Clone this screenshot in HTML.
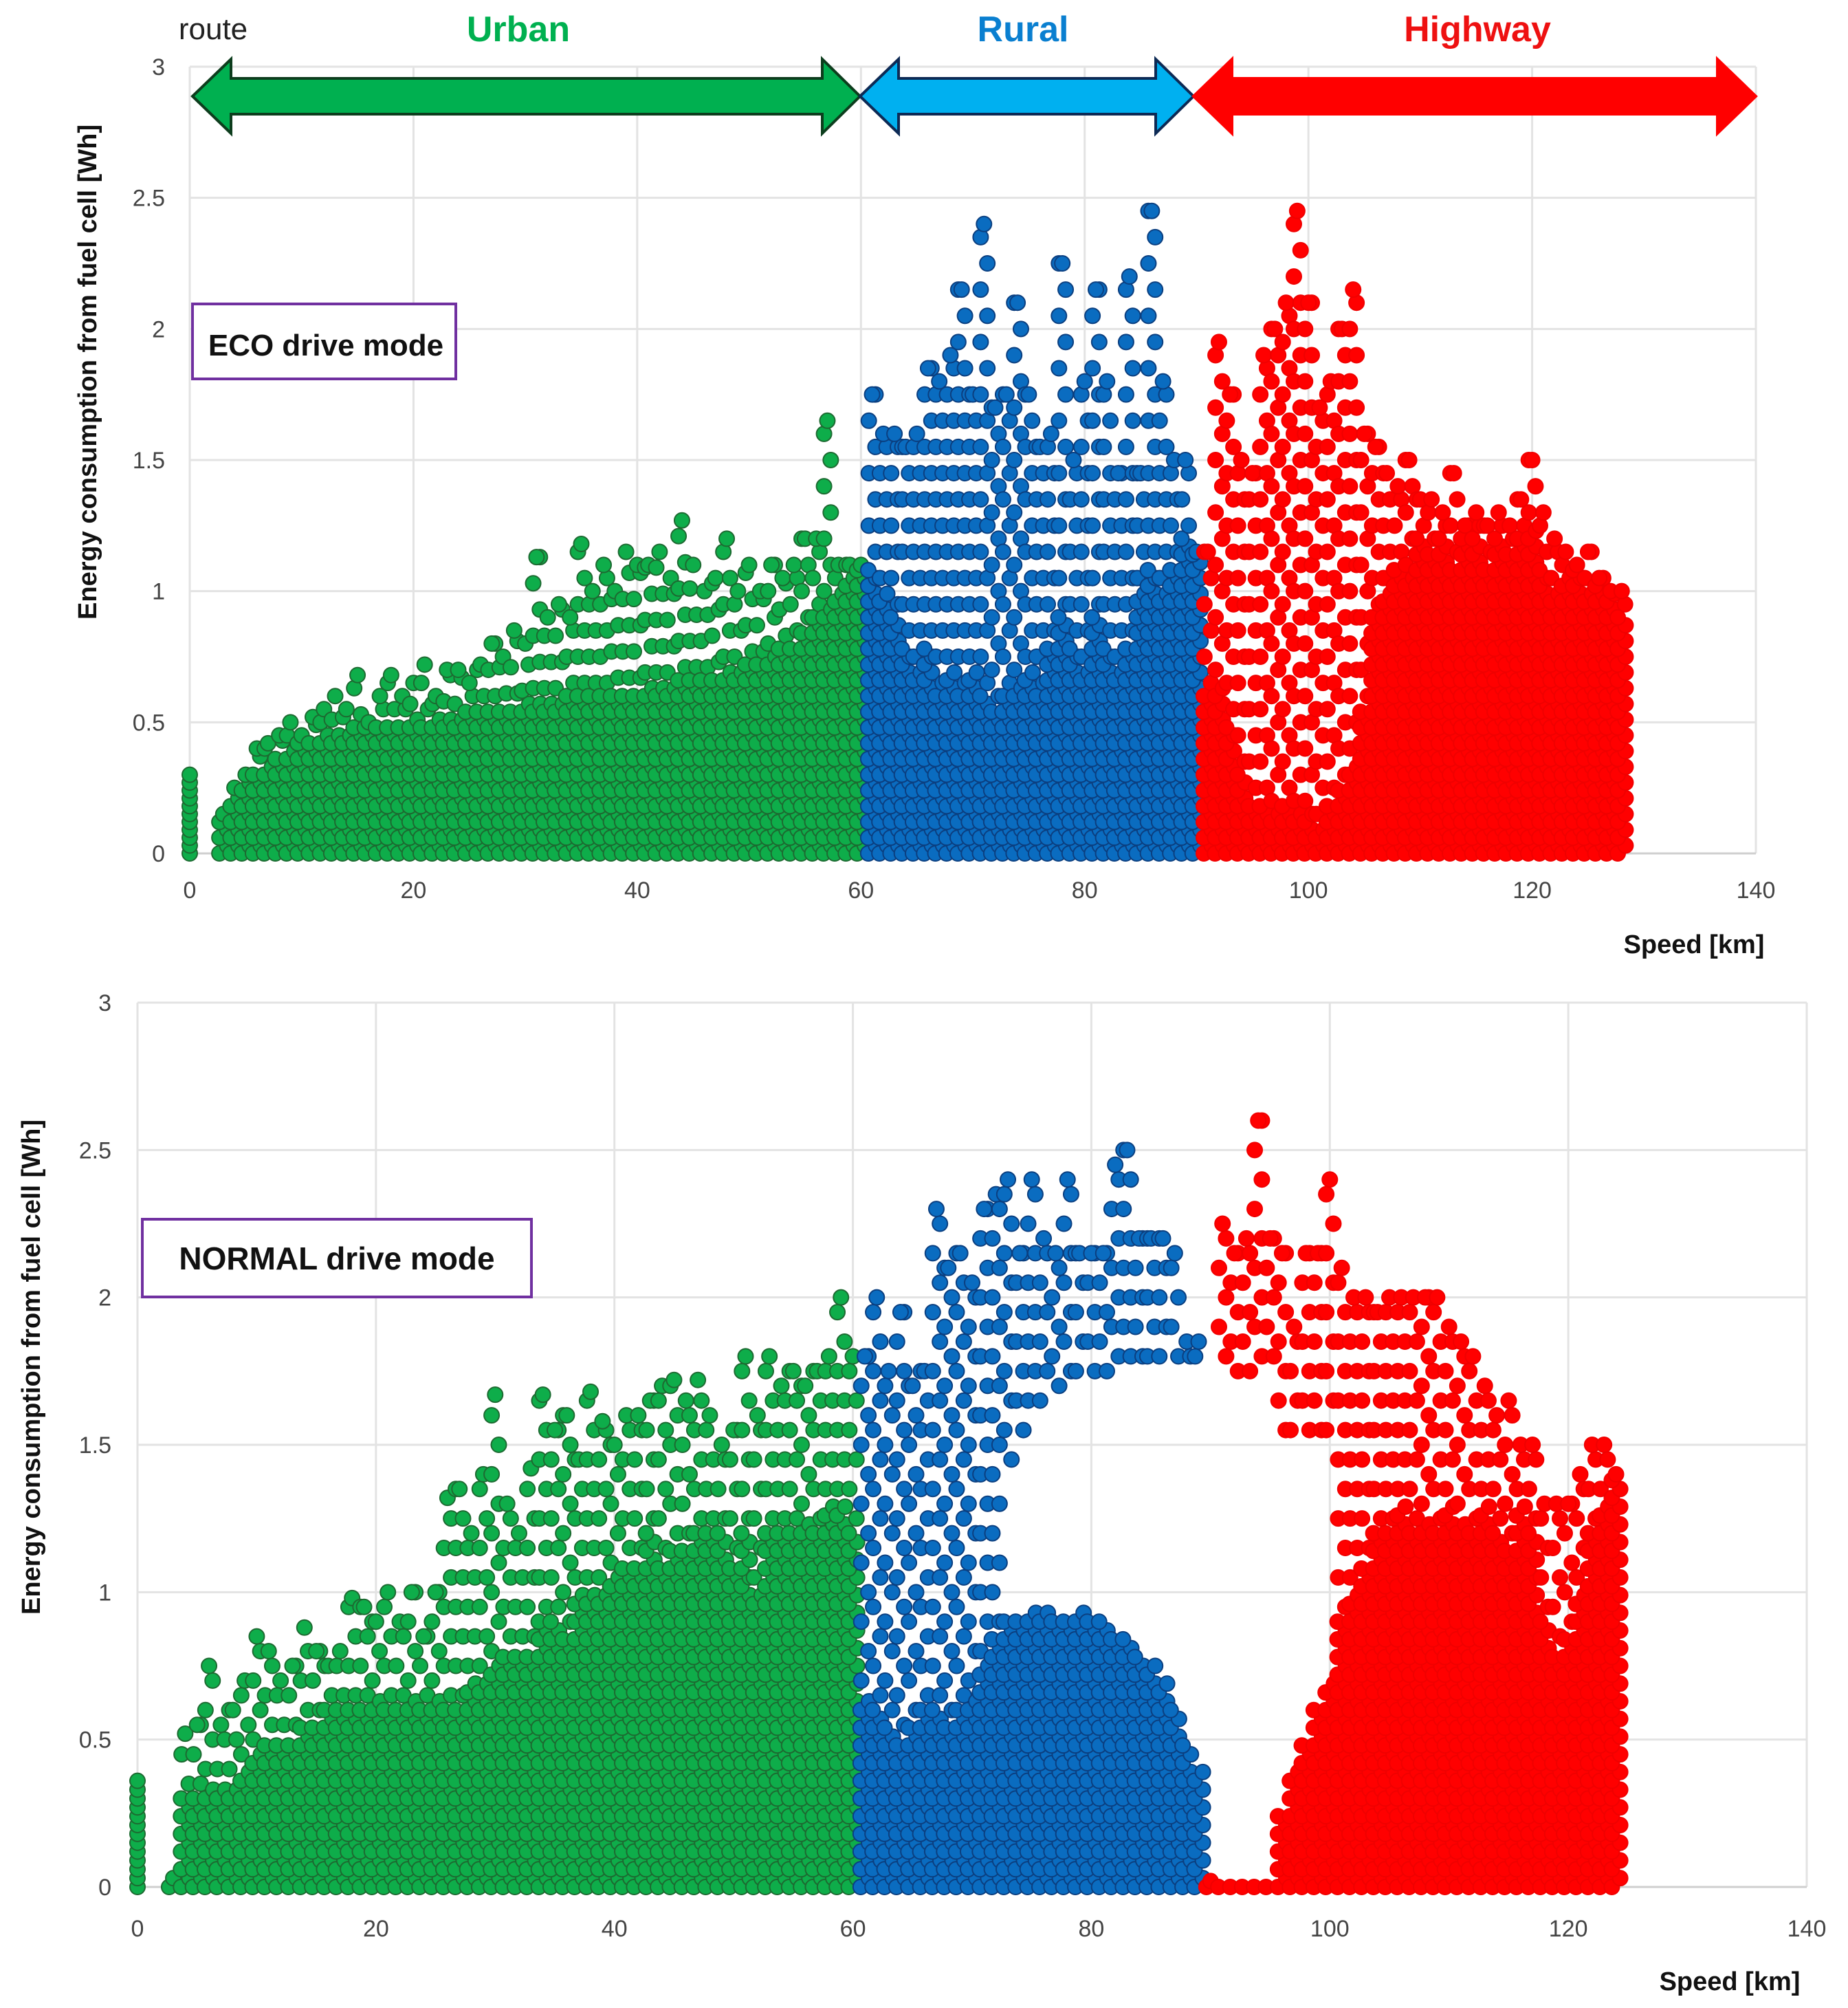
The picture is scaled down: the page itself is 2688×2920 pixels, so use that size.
<!DOCTYPE html>
<html><head><meta charset="utf-8"><style>
html,body{margin:0;padding:0;background:#fff;}
svg{display:block;font-family:"Liberation Sans",sans-serif;}
</style></head><body>
<svg id="chart" width="2688" height="2920" viewBox="0 0 2688 2920" xmlns="http://www.w3.org/2000/svg">
<rect width="2688" height="2920" fill="#fff"/>
<g id="top"></g>
<g id="bottom"></g>
<g id="overlay">
  <text x="310" y="57" font-size="44" fill="#222" text-anchor="middle">route</text>
  <text x="754" y="60" font-size="52" font-weight="bold" fill="#00b050" text-anchor="middle">Urban</text>
  <text x="1488" y="60" font-size="52" font-weight="bold" fill="#0a7fd0" text-anchor="middle">Rural</text>
  <text x="2149" y="60" font-size="52" font-weight="bold" fill="#ee1111" text-anchor="middle">Highway</text>
  <polygon points="280,140 336,86 336,114 1196,114 1196,86 1251,140 1196,194 1196,166 336,166 336,194" fill="#00b050" stroke="#0d3d1d" stroke-width="4"/>
  <polygon points="1251,140 1307,86 1307,114 1681,114 1681,86 1736,140 1681,194 1681,166 1307,166 1307,194" fill="#00b0f0" stroke="#0d2a55" stroke-width="4"/>
  <polygon points="1736,140 1792,86 1792,114 2498,114 2498,86 2554,140 2498,194 2498,166 1792,166 1792,194" fill="#ff0000" stroke="#ff0000" stroke-width="4"/>
  <rect x="280" y="442" width="383" height="109" fill="#fff" stroke="#7030a0" stroke-width="4"/>
  <text x="474" y="517" font-size="44" font-weight="bold" fill="#111" text-anchor="middle">ECO drive mode</text>
  <rect x="207" y="1773" width="566" height="113" fill="#fff" stroke="#7030a0" stroke-width="4"/>
  <text x="490" y="1846" font-size="46" font-weight="bold" fill="#111" text-anchor="middle">NORMAL drive mode</text>
</g>
</svg>
<script>
const xTicks=[0,20,40,60,80,100,120,140];
const yTicks=[0,0.5,1,1.5,2,2.5,3];
const yTickLabels=["0","0.5","1","1.5","2","2.5","3"];

// ECO mode
const ecoGreenSpeeds=[3,4,5,6,7,8,9,10,11,12,13,14,15,16,17,18,19,20,21,22,23,24,25,26,27,28,29,30,31,32,33,34,35,36,37,38,39,40,41,42,43,44,45,46,47,48,49,50,51,52,53,54,55,56,57,58,59,60];
const ecoGreenDense=[0.15,0.22,0.28,0.32,0.35,0.38,0.4,0.42,0.44,0.45,0.46,0.47,0.48,0.48,0.5,0.5,0.5,0.52,0.5,0.52,0.53,0.52,0.55,0.55,0.55,0.56,0.56,0.57,0.58,0.58,0.58,0.6,0.6,0.6,0.6,0.62,0.62,0.62,0.64,0.64,0.64,0.66,0.66,0.66,0.68,0.7,0.7,0.72,0.72,0.75,0.78,0.8,0.85,0.9,0.95,1.0,1.05,1.1];
const ecoGreenPeak=[0.15,0.25,0.3,0.4,0.42,0.45,0.5,0.45,0.52,0.55,0.6,0.55,0.68,0.5,0.6,0.68,0.6,0.65,0.72,0.6,0.7,0.7,0.65,0.72,0.8,0.75,0.85,0.8,1.13,0.9,0.95,0.9,1.18,1.0,1.1,1.0,1.15,1.1,1.1,1.15,1.05,1.27,1.1,1.0,1.05,1.2,1.0,1.1,1.0,1.1,1.05,1.1,1.2,1.2,1.65,1.1,1.1,1.1];
const ecoBlueSpeeds=[61,62,63,64,65,66,67,68,69,70,71,72,73,74,75,76,77,78,79,80,81,82,83,84,85,86,87,88,89,90];
const ecoBlueDense=[1.1,1.0,0.9,0.8,0.7,0.8,0.6,0.7,0.6,0.7,0.6,0.55,0.6,0.65,0.7,0.6,0.8,0.9,0.8,0.7,0.9,0.8,0.7,0.8,1.0,1.1,1.0,1.1,1.2,1.15];
const ecoBluePeak=[1.75,1.6,1.6,1.55,1.6,1.85,1.8,1.9,2.15,1.75,2.4,1.7,1.75,2.1,1.75,1.55,1.6,2.25,1.5,1.8,2.15,1.8,1.45,2.2,1.45,2.45,1.8,1.5,1.5,1.15];
const ecoRedSpeeds=[91,92,93,94,95,96,97,98,99,100,101,102,103,104,105,106,107,108,109,110,111,112,113,114,115,116,117,118,119,120,121,122,123,124,125,126,127,128];
const ecoRedDense=[0.6,0.65,0.5,0.3,0.2,0.2,0.15,0.2,0.15,0.15,0.1,0.2,0.25,0.35,0.55,0.9,1.0,1.1,1.05,1.2,1.15,1.2,1.1,1.2,1.2,1.1,1.2,1.15,1.2,1.25,1.1,1.0,1.05,1.1,1.0,1.05,1.0,0.9];
const ecoRedPeak=[1.15,1.95,1.75,1.5,1.45,1.9,2.0,2.1,2.45,2.1,1.7,1.8,2.0,2.15,1.6,1.55,1.45,1.4,1.5,1.35,1.35,1.3,1.45,1.25,1.3,1.25,1.3,1.25,1.35,1.5,1.3,1.2,1.15,1.1,1.15,1.05,1.0,1.0];

// NORMAL mode
const normGreenSpeeds=[3,4,5,6,7,8,9,10,11,12,13,14,15,16,17,18,19,20,21,22,23,24,25,26,27,28,29,30,31,32,33,34,35,36,37,38,39,40,41,42,43,44,45,46,47,48,49,50,51,52,53,54,55,56,57,58,59,60];
const normGreenDense=[0.03,0.3,0.3,0.35,0.35,0.35,0.4,0.45,0.5,0.5,0.5,0.55,0.55,0.6,0.6,0.6,0.6,0.65,0.6,0.6,0.65,0.6,0.65,0.6,0.6,0.7,0.7,0.75,0.8,0.8,0.8,0.9,0.9,0.85,1.0,1.0,1.0,1.05,1.1,1.1,1.2,1.1,1.15,1.15,1.2,1.2,1.2,1.1,1.2,1.0,1.2,1.2,1.2,1.25,1.2,1.3,1.3,1.2];
const normGreenPeak=[0.03,0.52,0.55,0.75,0.55,0.6,0.7,0.85,0.8,0.7,0.75,0.88,0.8,0.75,0.8,0.98,0.95,0.9,1.0,0.9,1.0,0.85,1.0,1.32,1.35,1.2,1.4,1.67,1.3,1.2,1.42,1.67,1.55,1.6,1.45,1.68,1.58,1.5,1.6,1.6,1.65,1.7,1.72,1.65,1.72,1.6,1.5,1.55,1.8,1.6,1.8,1.7,1.75,1.7,1.75,1.8,2.0,1.8];
const normBlueSpeeds=[61,62,63,64,65,66,67,68,69,70,71,72,73,74,75,76,77,78,79,80,81,82,83,84,85,86,87,88,89];
const normBlueDense=[0.65,0.6,0.55,0.5,0.55,0.6,0.6,0.55,0.6,0.65,0.75,0.85,0.9,0.9,0.95,0.95,0.9,0.9,0.95,0.9,0.9,0.85,0.85,0.8,0.75,0.7,0.6,0.5,0.4];
const normBlueLow=[0.65,0.6,0.55,0.5,0.55,0.6,0.6,0.55,0.6,0.65,0.75,0.85,1.4,1.5,1.6,1.6,1.65,1.7,1.7,1.7,1.7,1.75,1.75,1.75,1.75,1.75,1.75,1.75,1.75];
const normBluePeak=[1.8,2.0,1.75,1.95,1.7,1.75,2.3,2.1,2.15,2.05,2.3,2.35,2.4,2.15,2.4,2.2,2.15,2.4,2.15,2.15,2.15,2.45,2.5,2.2,2.2,2.2,2.15,1.85,1.85];
const normRedSpeeds=[90,91,92,93,94,95,96,97,98,99,100,101,102,103,104,105,106,107,108,109,110,111,112,113,114,115,116,117,118,119,120,121,122,123,124];
const normRedDense=[0.02,0.02,0.02,0.02,0.02,0.02,0.25,0.4,0.5,0.6,0.7,0.9,1.0,1.1,1.2,1.2,1.3,1.2,1.25,1.2,1.3,1.25,1.2,1.3,1.2,1.15,1.3,1.2,0.9,0.8,0.85,1.0,1.2,1.3,1.4];
const normRedLow=[0.02,1.75,1.7,1.7,1.75,1.75,1.5,1.5,1.5,1.5,1.5,0.9,1.0,1.1,1.2,1.2,1.3,1.2,1.25,1.2,1.3,1.25,1.2,1.3,1.2,1.15,1.3,1.2,0.9,0.8,0.85,1.0,1.2,1.3,1.4];
const normRedPeak=[0.02,2.25,2.15,2.2,2.6,2.2,2.15,1.9,2.15,2.15,2.4,2.1,2.0,2.0,1.95,2.0,2.0,2.0,2.0,2.0,1.9,1.85,1.8,1.7,1.6,1.65,1.5,1.5,1.3,1.3,1.3,1.4,1.5,1.5,1.4];

const NS='http://www.w3.org/2000/svg';
function el(tag,attrs,parent){const e=document.createElementNS(NS,tag);for(const k in attrs)e.setAttribute(k,attrs[k]);parent.appendChild(e);return e;}

function makePlot(g,cfg){
  const xS=v=>cfg.x0+(v/140)*(cfg.x1-cfg.x0);
  const yS=v=>cfg.y0-(v/3)*(cfg.y0-cfg.y1);
  xTicks.forEach(t=>{
    const l=el('line',{x1:xS(t),x2:xS(t),y1:cfg.y1,y2:cfg.y0,stroke:'#e3e3e3','stroke-width':3},g);
    
    
    const tx=el('text',{x:xS(t),y:cfg.xLabY,'font-size':34,fill:'#444','text-anchor':'middle'},g);
    tx.textContent=String(t);
    
    
  });
  yTicks.forEach((t,i)=>{
    const l=el('line',{x1:cfg.x0,x2:cfg.x1,y1:yS(t),y2:yS(t),stroke:t===0?'#cfcfcf':'#e3e3e3','stroke-width':3},g);
    
    
    const tx=el('text',{x:cfg.yLabX,y:yS(t)+12,'font-size':34,fill:'#444','text-anchor':'end'},g);
    tx.textContent=yTickLabels[i];
    
    
  });
  const yt=el('text',{x:0,y:0,'font-size':38,'font-weight':'bold',fill:'#111','text-anchor':'middle',transform:`translate(${cfg.yTitleX},${cfg.yTitleY}) rotate(-90)`},g);
  yt.textContent='Energy consumption from fuel cell [Wh]';
  
  
  const xt=el('text',{x:cfg.xTitleX,y:cfg.xTitleY,'font-size':38,'font-weight':'bold',fill:'#111','text-anchor':'middle'},g);
  xt.textContent='Speed [km]';
  
  

  const r=11;
  function series(speeds,dense,peak,low,fill,stroke,name,zeroCol){
    const sg=el('g',{},g);
    
    
    if(zeroCol!==undefined){
      for(let v=0;v<=zeroCol+1e-6;v+=0.03){
        const c=el('circle',{cx:xS(0),cy:yS(v),r:r,fill:fill,stroke:stroke,'stroke-width':2},sg);
        
        
      }
    }
    speeds.forEach((s,i)=>{
      let k=0;
      for(let v=0;v<=dense[i]+1e-6;v+=0.03){
        const c=el('circle',{cx:xS(s+((k%2)?0.35:-0.35)),cy:yS(v),r:r,fill:fill,stroke:stroke,'stroke-width':2},sg);
        
        
        k++;
      }
      const lo=Math.max(dense[i],low?low[i]:dense[i]);
      for(let v=lo+0.05;v<=peak[i]+1e-6;v+=0.1){
        const c=el('circle',{cx:xS(s+((k%2)?0.3:-0.3)),cy:yS(v),r:r,fill:fill,stroke:stroke,'stroke-width':2},sg);
        
        
        k++;
      }
      const c=el('circle',{cx:xS(s),cy:yS(peak[i]),r:r,fill:fill,stroke:stroke,'stroke-width':2},sg);
      
      
    });
  }
  cfg.series.forEach(sr=>series(...sr));
}

makePlot(document.getElementById('top'),{x0:276,x1:2554,y0:1241,y1:97,xLabY:1306,yLabX:240,yTitleX:140,yTitleY:541,xTitleX:2464,xTitleY:1386,
  series:[[ecoGreenSpeeds,ecoGreenDense,ecoGreenPeak,null,'#0ead4a','#1d6a31','urban-eco-series',0.3],
          [ecoBlueSpeeds,ecoBlueDense,ecoBluePeak,null,'#0a6cc0','#0b3f80','rural-eco-series'],
          [ecoRedSpeeds,ecoRedDense,ecoRedPeak,null,'#ff0000','#f00000','highway-eco-series']]});
makePlot(document.getElementById('bottom'),{x0:200,x1:2628,y0:2744,y1:1458,xLabY:2816,yLabX:162,yTitleX:58,yTitleY:1988,xTitleX:2516,xTitleY:2894,
  series:[[normGreenSpeeds,normGreenDense,normGreenPeak,null,'#0ead4a','#1d6a31','urban-normal-series',0.38],
          [normBlueSpeeds,normBlueDense,normBluePeak,normBlueLow,'#0a6cc0','#0b3f80','rural-normal-series'],
          [normRedSpeeds,normRedDense,normRedPeak,normRedLow,'#ff0000','#f00000','highway-normal-series']]});
</script>
</body></html>
